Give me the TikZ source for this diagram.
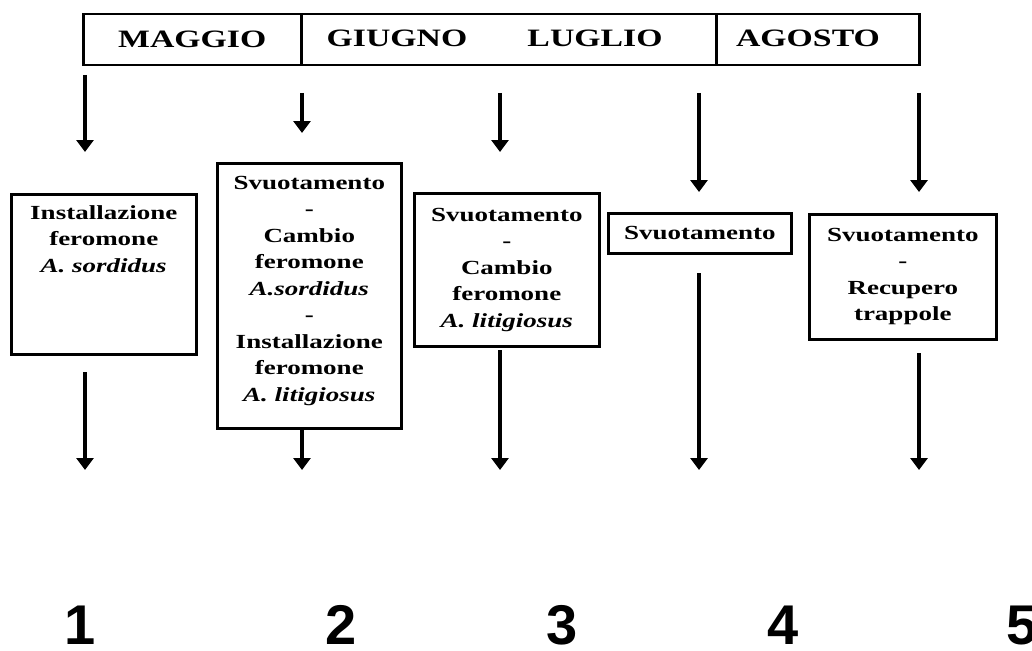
\documentclass[tikz,border=0pt]{standalone}
\usepackage{fontspec}
\setmainfont{Liberation Serif}
\newfontfamily\stretchserif[FakeStretch=1.35]{Liberation Serif}
\newfontfamily\digitfont{Liberation Sans}
\usetikzlibrary{arrows.meta}
\tikzset{
  arr/.style={line width=4pt, -{Triangle[width=17pt,length=12pt]}},
  box/.style={draw, line width=2.5pt, anchor=north west, inner sep=0pt},
  cell/.style={draw, line width=2.5pt, anchor=north west, inner sep=0pt, minimum height=51pt},
  htxt/.style={font=\stretchserif\bfseries\fontsize{25}{30}\selectfont, inner sep=0pt},
  btxt/.style={font=\stretchserif\bfseries\fontsize{20}{26.5}\selectfont, align=center, anchor=north, inner sep=0pt},
  digit/.style={font=\digitfont\bfseries\fontsize{56}{60}\selectfont, anchor=base, inner sep=0pt},
}
\begin{document}
\begin{tikzpicture}[x=1pt,y=-1pt]
\useasboundingbox (0,0) rectangle (1032,650);

% header
\node[cell, minimum width=218pt] (hm) at (82,13) {};
\node[cell, minimum width=415pt] (hgl) at (300,13) {};
\node[cell, minimum width=203pt] (ha) at (715,13) {};
\node[htxt] (tm) at (hm.center) {MAGGIO};
\node[htxt] (tg) at (397,38.5) {GIUGNO};
\node[htxt] (tl) at (595,38.5) {LUGLIO};
\node[htxt] (ta) at (808,38.5) {AGOSTO};

% boxes
\node[box, minimum width=185pt, minimum height=160pt] (b1) at (10,193) {};
\node[box, minimum width=184pt, minimum height=265pt] (b2) at (216,162) {};
\node[box, minimum width=185pt, minimum height=153pt] (b3) at (413,192) {};
\node[box, minimum width=183pt, minimum height=40pt] (b4) at (607,212) {};
\node[box, minimum width=187pt, minimum height=125pt] (b5) at (808,213) {};

\node[btxt] (t1) at ([yshift=-12pt]b1.north) {Installazione\\feromone\\\itshape A. sordidus};
\node[btxt] (t2) at ([yshift=-14pt]b2.north) {Svuotamento\\-\\Cambio\\feromone\\\itshape A.sordidus\\-\\Installazione\\feromone\\\itshape A. litigiosus};
\node[btxt] (t3) at ([yshift=-16pt]b3.north) {Svuotamento\\-\\Cambio\\feromone\\\itshape A. litigiosus};
\node[btxt, anchor=center] (t4) at (b4.center) {Svuotamento};
\node[btxt] (t5) at ([yshift=-15pt]b5.north) {Svuotamento\\-\\Recupero\\trappole};

% arrows
\coordinate (a1s) at (85,75);   \coordinate (a1e) at (85,152);
\coordinate (a2s) at (302,93);  \coordinate (a2e) at (302,133);
\coordinate (a3s) at (500,93);  \coordinate (a3e) at (500,152);
\coordinate (a4s) at (699,93);  \coordinate (a4e) at (699,192);
\coordinate (a5s) at (919,93);  \coordinate (a5e) at (919,192);
\coordinate (c1s) at (85,372);  \coordinate (c1e) at (85,470);
\coordinate (c2s) at (302,430); \coordinate (c2e) at (302,470);
\coordinate (c3s) at (500,350); \coordinate (c3e) at (500,470);
\coordinate (c4s) at (699,273); \coordinate (c4e) at (699,470);
\coordinate (c5s) at (919,353); \coordinate (c5e) at (919,470);
\foreach \i in {1,...,5} {
  \draw[arr] (a\i s) -- (a\i e);
  \draw[arr] (c\i s) -- (c\i e);
}

% numbers
\node[digit] (n1) at (80,644) {1};
\node[digit] (n2) at (341,644) {2};
\node[digit] (n3) at (562,644) {3};
\node[digit] (n4) at (783,644) {4};
\node[digit] (n5) at (1022,644) {5};
\end{tikzpicture}
\end{document}
